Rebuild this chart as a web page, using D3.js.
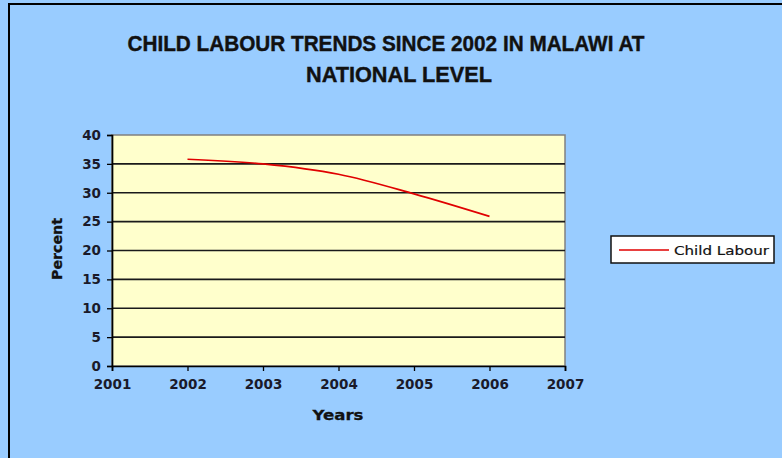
<!DOCTYPE html>
<html>
<head>
<meta charset="utf-8">
<script src="https://cdn.jsdelivr.net/npm/d3@7"></script>
<style>
html,body{margin:0;padding:0;background:#99CCFF;overflow:hidden;}
svg{display:block;}
</style>
</head>
<body>
<svg id="chart" width="782" height="458"></svg>
<script>
const years = [2002, 2003, 2004, 2005, 2006];
const childLabour = [35.8, 35.0, 33.2, 29.8, 25.9];
const xTicks = [2001, 2002, 2003, 2004, 2005, 2006, 2007];
const yTicks = [0, 5, 10, 15, 20, 25, 30, 35, 40];
const titleLines = ["CHILD LABOUR TRENDS SINCE 2002 IN MALAWI AT", "NATIONAL LEVEL"];
const seriesName = "Child Labour";

const svg = d3.select("#chart");
const W = 782, H = 458;
const plot = {left: 112, right: 565, top: 135, bottom: 366};

svg.append("rect").attr("width", W).attr("height", H).attr("fill", "#99CCFF");
svg.append("path").attr("d", `M9,${H + 10} L9,4 L${W + 10},4`)
  .attr("fill", "none").attr("stroke", "#000").attr("stroke-width", 2);

const x = d3.scaleLinear().domain([2001, 2007]).range([plot.left, plot.right]);
const y = d3.scaleLinear().domain([0, 40]).range([plot.bottom, plot.top]);

// plot area
svg.append("rect").attr("x", plot.left).attr("y", plot.top)
  .attr("width", plot.right - plot.left).attr("height", plot.bottom - plot.top)
  .attr("fill", "#FFFFCC").attr("stroke", "#808080").attr("stroke-width", 1.5);

// gridlines
svg.append("g").selectAll("line").data(yTicks.filter(d => d > 0 && d < 40)).join("line")
  .attr("x1", plot.left).attr("x2", plot.right)
  .attr("y1", d => y(d)).attr("y2", d => y(d))
  .attr("stroke", "#1a1a1a").attr("stroke-width", 1.7);

// axes
const fontTick = "'DejaVu Sans', Verdana, sans-serif";
const yAxis = svg.append("g").attr("transform", `translate(${plot.left},0)`)
  .call(d3.axisLeft(y).tickValues(yTicks).tickSize(5).tickPadding(6).tickFormat(d3.format("d")));
const xAxis = svg.append("g").attr("transform", `translate(0,${plot.bottom})`)
  .call(d3.axisBottom(x).tickValues(xTicks).tickSize(5).tickPadding(8).tickFormat(d3.format("d")));
[yAxis, xAxis].forEach(a => {
  a.select(".domain").attr("stroke", "#000").attr("stroke-width", 1.7);
  a.selectAll(".tick line").attr("stroke", "#000").attr("stroke-width", 1.3);
  a.selectAll(".tick text").attr("fill", "#1a1a2a")
    .style("font-family", fontTick).style("font-size", "13.5px").style("font-weight", "bold");
});

// line
const line = d3.line().x(d => x(d[0])).y(d => y(d[1])).curve(d3.curveCatmullRom.alpha(0.5));
svg.append("path").datum(years.map((yr, i) => [yr, childLabour[i]]))
  .attr("d", line).attr("fill", "none").attr("stroke", "#E00000").attr("stroke-width", 1.7);

// title
const titleFont = "'Liberation Sans Narrow', 'Arial Narrow', 'Liberation Sans', Arial, sans-serif";
svg.append("text").attr("x", 386).attr("y", 51).attr("text-anchor", "middle")
  .attr("textLength", 517).attr("lengthAdjust", "spacingAndGlyphs")
  .style("font-family", titleFont).style("font-size", "22px").style("font-weight", "bold")
  .attr("fill", "#111").attr("stroke", "#111").attr("stroke-width", 0.4).text(titleLines[0]);
svg.append("text").attr("x", 399).attr("y", 82).attr("text-anchor", "middle")
  .attr("textLength", 186).attr("lengthAdjust", "spacingAndGlyphs")
  .style("font-family", titleFont).style("font-size", "22px").style("font-weight", "bold")
  .attr("fill", "#111").attr("stroke", "#111").attr("stroke-width", 0.4).text(titleLines[1]);

// axis titles
svg.append("text").attr("transform", "translate(62,249) rotate(-90)")
  .attr("text-anchor", "middle").attr("textLength", 62).attr("lengthAdjust", "spacingAndGlyphs")
  .style("font-family", fontTick).style("font-size", "14px").style("font-weight", "bold")
  .attr("fill", "#111").attr("stroke", "#111").attr("stroke-width", 0.3).text("Percent");
svg.append("text").attr("x", 338).attr("y", 420).attr("text-anchor", "middle")
  .attr("textLength", 51).attr("lengthAdjust", "spacingAndGlyphs")
  .style("font-family", fontTick).style("font-size", "14.5px").style("font-weight", "bold")
  .attr("fill", "#111").attr("stroke", "#111").attr("stroke-width", 0.3).text("Years");

// legend
const lg = svg.append("g");
lg.append("rect").attr("x", 611).attr("y", 236).attr("width", 163).attr("height", 27)
  .attr("fill", "#fff").attr("stroke", "#111").attr("stroke-width", 1.5);
lg.append("line").attr("x1", 619).attr("x2", 669).attr("y1", 250).attr("y2", 250)
  .attr("stroke", "#E00000").attr("stroke-width", 1.5);
lg.append("text").attr("x", 674).attr("y", 254.5)
  .attr("textLength", 95).attr("lengthAdjust", "spacingAndGlyphs")
  .style("font-family", fontTick).style("font-size", "12.5px")
  .attr("fill", "#111").attr("stroke", "#111").attr("stroke-width", 0.2).text(seriesName);
</script>
</body>
</html>
